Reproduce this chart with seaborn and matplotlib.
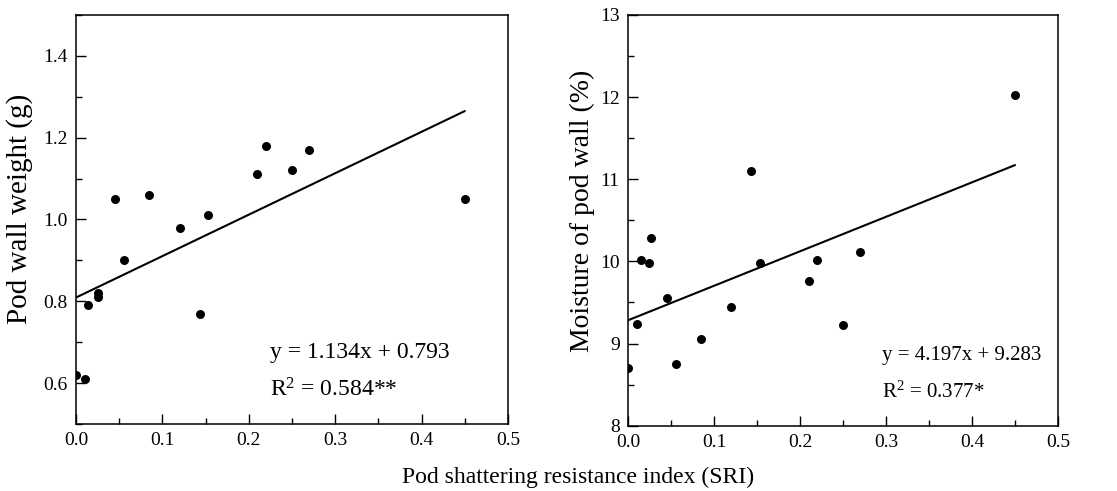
import numpy as np
import pandas as pd
import matplotlib
matplotlib.use("Agg")
import matplotlib.pyplot as plt
from matplotlib.ticker import MultipleLocator, FormatStrFormatter
import seaborn as sns

# ---- data ----
sri = [0.000, 0.010, 0.014, 0.025, 0.026, 0.045, 0.056, 0.085,
       0.120, 0.143, 0.153, 0.210, 0.220, 0.250, 0.270, 0.450]
pod_wall_weight = [0.62, 0.61, 0.79, 0.82, 0.81, 1.05, 0.90, 1.06,
                   0.98, 0.77, 1.01, 1.11, 1.18, 1.12, 1.17, 1.05]
sri_m = [0.000, 0.010, 0.015, 0.025, 0.027, 0.045, 0.056, 0.085,
         0.120, 0.143, 0.153, 0.210, 0.220, 0.250, 0.270, 0.450]
pod_wall_moisture = [8.70, 9.24, 10.02, 9.98, 10.28, 9.56, 8.75, 9.06,
                     9.45, 11.10, 9.98, 9.76, 10.02, 9.22, 10.11, 12.03]

eq_left = ["y = 1.134x + 0.793", r"R$^2$ = 0.584**"]
eq_right = ["y = 4.197x + 9.283", r"R$^2$ = 0.377*"]
xlabel = "Pod shattering resistance index (SRI)"
ylabel_left = "Pod wall weight (g)"
ylabel_right = "Moisture of pod wall (%)"

df_l = pd.DataFrame({"SRI": sri, "W": pod_wall_weight})
df_r = pd.DataFrame({"SRI": sri_m, "M": pod_wall_moisture})

sns.set_theme(style="ticks")
plt.rcParams["font.family"] = ["Liberation Serif", "DejaVu Serif"]
plt.rcParams["mathtext.fontset"] = "custom"
plt.rcParams["mathtext.rm"] = "Liberation Serif"
plt.rcParams["mathtext.it"] = "Liberation Serif:italic"
for k in ["text.color", "axes.labelcolor", "xtick.color", "ytick.color", "axes.edgecolor"]:
    plt.rcParams[k] = "black"

fig = plt.figure(figsize=(11.17, 4.91), dpi=100)
fig.patch.set_facecolor("white")
axL = fig.add_axes([0.068, 0.1365, 0.3868, 0.833])
axR = fig.add_axes([0.5622, 0.133, 0.385, 0.8365])

sk = dict(s=42, color="black", edgecolor="black", linewidths=0, alpha=1, zorder=3)
lk = dict(color="black", linewidth=1.5)
sns.regplot(data=df_l, x="SRI", y="W", ax=axL, ci=None, scatter_kws=sk, line_kws=lk)
sns.regplot(data=df_r, x="SRI", y="M", ax=axR, ci=None, scatter_kws=sk, line_kws=lk)

axL.set_xlim(0, 0.5)
axL.set_ylim(0.5, 1.5)
axL.yaxis.set_minor_locator(MultipleLocator(0.1))
axL.set_yticks([0.6, 0.8, 1.0, 1.2, 1.4])
axL.yaxis.set_major_formatter(FormatStrFormatter("%.1f"))

axR.set_xlim(0, 0.5)
axR.set_ylim(8, 13)
axR.yaxis.set_major_locator(MultipleLocator(1))
axR.yaxis.set_minor_locator(MultipleLocator(0.5))
axR.yaxis.set_major_formatter(FormatStrFormatter("%d"))

for ax in (axL, axR):
    ax.set_facecolor("white")
    ax.xaxis.set_major_locator(MultipleLocator(0.1))
    ax.xaxis.set_minor_locator(MultipleLocator(0.05))
    ax.xaxis.set_major_formatter(FormatStrFormatter("%.1f"))
    ax.tick_params(which="both", direction="in", top=False, right=False,
                   colors="black", labelcolor="black", labelsize=14, width=1.0)
    ax.tick_params(which="major", length=7, pad=6)
    ax.tick_params(which="minor", length=4)
    for sp in ax.spines.values():
        sp.set_visible(True)
        sp.set_color("black")
        sp.set_linewidth(1.1)
    ax.set_xlabel("")

axL.set_ylabel(ylabel_left, fontsize=21, color="black")
axR.set_ylabel(ylabel_right, fontsize=20, color="black")
axL.yaxis.set_label_coords(-0.10, 0.526)
axR.yaxis.set_label_coords(-0.077, 0.522)

axL.text(0.449, 0.161, eq_left[0], transform=axL.transAxes, fontsize=17, va="baseline")
axL.text(0.449, 0.067, eq_left[1], transform=axL.transAxes, fontsize=17, va="baseline")
axR.text(0.59, 0.16, eq_right[0], transform=axR.transAxes, fontsize=15, va="baseline")
axR.text(0.59, 0.068, eq_right[1], transform=axR.transAxes, fontsize=15, va="baseline")

fig.text(0.5175, 0.016, xlabel, fontsize=17, ha="center", va="baseline")

fig.savefig("out.png", dpi=100, facecolor="white")
